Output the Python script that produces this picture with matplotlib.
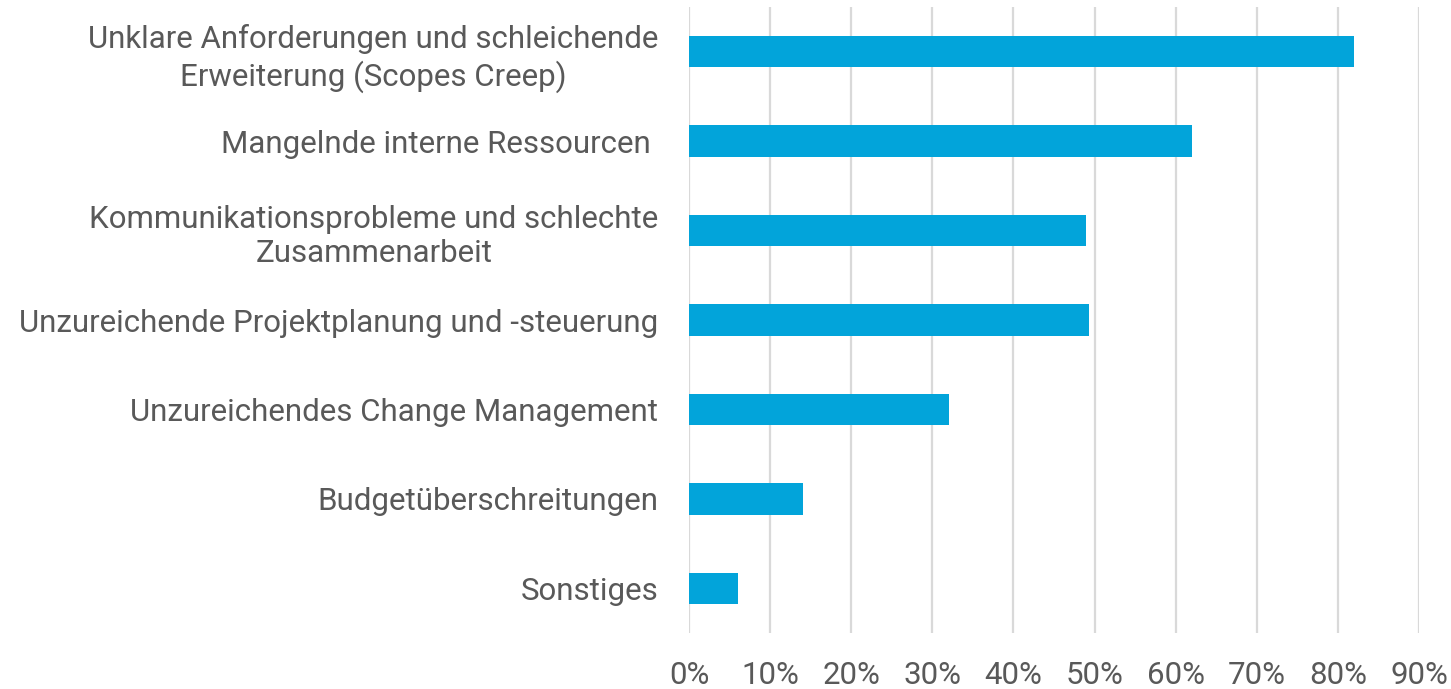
import matplotlib
matplotlib.use("Agg")
import matplotlib.pyplot as plt
from matplotlib.ticker import PercentFormatter

categories = [
    "Unklare Anforderungen und schleichende\nErweiterung (Scopes Creep)",
    "Mangelnde interne Ressourcen ",
    "Kommunikationsprobleme und schlechte\nZusammenarbeit",
    "Unzureichende Projektplanung und -steuerung",
    "Unzureichendes Change Management",
    "Budgetüberschreitungen",
    "Sonstiges",
]
values = [0.82, 0.62, 0.49, 0.493, 0.32, 0.14, 0.06]
xticks = [0, 0.1, 0.2, 0.3, 0.4, 0.5, 0.6, 0.7, 0.8, 0.9]

text_color = "#595959"
bar_color = "#02A4DA"
grid_color = "#D9D9D9"

fig = plt.figure(figsize=(14.51, 6.89), dpi=100)
ax = fig.add_axes([689/1451, 1 - 633/689, (1419 - 689)/1451, (633 - 7)/689])

y = list(range(len(categories)))
ax.barh(y, values, height=0.35, color=bar_color, zorder=3)
ax.set_ylim(len(categories) - 0.5, -0.5)
ax.set_xlim(0, 0.9)
ax.set_xticks(xticks)
ax.xaxis.set_major_formatter(PercentFormatter(1.0, decimals=0))
ax.set_yticks(y)
ax.set_yticklabels(categories)

for s in ax.spines.values():
    s.set_visible(False)
ax.grid(axis="x", color=grid_color, linewidth=1.6, zorder=0)
ax.tick_params(axis="both", length=0, colors=text_color)
ax.tick_params(axis="x", pad=20, labelsize=22.5)
ax.tick_params(axis="y", pad=22, labelsize=22.5)
for lbl in ax.get_yticklabels() + ax.get_xticklabels():
    lbl.set_fontfamily("Roboto")
    lbl.set_fontweight("normal")
for lbl in ax.get_yticklabels():
    lbl.set_multialignment("center")
    lbl.set_linespacing(1.25)

fig.savefig("out.png", dpi=100)
